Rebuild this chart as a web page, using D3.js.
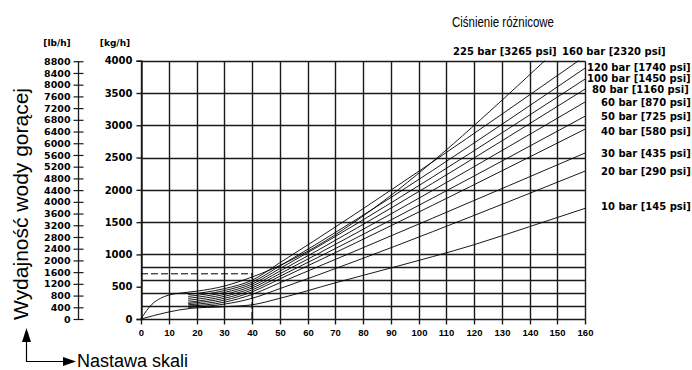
<!DOCTYPE html>
<html>
<head>
<meta charset="utf-8">
<script src="https://cdn.jsdelivr.net/npm/d3@7"></script>
<style>
html,body{margin:0;padding:0;background:#fff;}
svg{display:block;}
</style>
</head>
<body>
<svg id="chart" width="692" height="370"></svg>
<script>
// ---------- DATA ----------
const settingTicks = [0,10,20,30,40,50,60,70,80,90,100,110,120,130,140,150,160];
const kgTicks = [0,500,1000,1500,2000,2500,3000,3500,4000];
const kgMinorGrid = [200,400,600,800];
const lbTicks = [0,400,800,1200,1600,2000,2400,2800,3200,3600,4000,4400,4800,5200,5600,6000,6400,6800,7200,7600,8000,8400,8800];

const pressures = ["225","160","120","100","80","60","50","40","30","20","10"];
const pressureLabels = {
  "225":"225 bar [3265 psi]","160":"160 bar [2320 psi]","120":"120 bar [1740 psi]",
  "100":"100 bar [1450 psi]","80":"80 bar [1160 psi]","60":"60 bar [870 psi]",
  "50":"50 bar [725 psi]","40":"40 bar [580 psi]","30":"30 bar [435 psi]",
  "20":"20 bar [290 psi]","10":"10 bar [145 psi]"
};
// label anchor value (kg/h) at the right edge for side labels
const labelKg = {"120":3890,"100":3730,"80":3560,"60":3360,"50":3130,"40":2910,"30":2560,"20":2280,"10":1745};

// curves: [setting, kg/h]
const c225 = [[0,0],[2,130],[4,230],[7,320],[10,370],[15,405],[20,430],[30,510],[40,650],[145.5,4000]];
const c160 = [[17,380],[30,470],[40,600],[50,870],[157.7,4000]];
const c120 = [[17,350],[30,440],[40,570],[50,820],[160,3885]];
const c100 = [[17,320],[30,410],[40,540],[50,780],[160,3715]];
const c80  = [[17,290],[30,380],[40,510],[50,740],[160,3560]];
const c60  = [[17,260],[30,350],[40,480],[50,700],[160,3360]];
const c50  = [[17,240],[30,320],[40,450],[50,660],[160,3140]];
const c40  = [[17,220],[30,290],[40,420],[50,620],[160,2940]];
const c30  = [[17,200],[30,260],[40,380],[50,560],[160,2570]];
const c20  = [[17,180],[30,230],[40,320],[50,470],[160,2290]];
const c10  = [[0,0],[18,165],[30,190],[40,220],[50,320],[70,560],[90,790],[120,1150],[140,1430],[160,1713]];
const curves = {"225":c225,"160":c160,"120":c120,"100":c100,"80":c80,"60":c60,"50":c50,"40":c40,"30":c30,"20":c20,"10":c10};

// example reading
const exampleSetting = 40;
const exampleKg = 700;

// ---------- DRAW ----------
const svg = d3.select("#chart");
const x = d3.scaleLinear().domain([0,160]).range([141,585]);
const y = d3.scaleLinear().domain([0,4000]).range([319,60.7]);
const LB_PER_KG = 2.20462;
const yLb = d3.scaleLinear().domain([0,4000*LB_PER_KG]).range([319,60.7]);
const px = v => Math.round(v) + 0.5;

const grid = svg.append("g").attr("stroke","#1a1a1a").attr("stroke-width",1.4);
settingTicks.forEach(s=>{
  grid.append("line").attr("x1",px(x(s))).attr("x2",px(x(s))).attr("y1",px(y(0))).attr("y2",px(y(4000)));
});
kgTicks.filter(v=>v>=1000 || v===0).concat(kgMinorGrid).forEach(v=>{
  grid.append("line").attr("x1",px(x(0))).attr("x2",px(x(160))).attr("y1",px(y(v))).attr("y2",px(y(v)));
});

// axes
const fontB = "'DejaVu Sans', sans-serif";
const kgAxis = svg.append("g").attr("transform",`translate(${px(x(0))},0)`)
  .call(d3.axisLeft(y).tickValues(kgTicks).tickSize(5).tickPadding(4).tickFormat(d3.format("d")));
kgAxis.select(".domain").attr("stroke","#1a1a1a").attr("stroke-width",1.4);
kgAxis.selectAll(".tick line").attr("stroke","#1a1a1a").attr("stroke-width",1.4);
kgAxis.selectAll("text").attr("font-family",fontB).attr("font-weight","bold").attr("font-size",10).attr("fill","#000");

const lbAxis = svg.append("g").attr("transform","translate(78.5,0)")
  .call(d3.axisLeft(yLb).tickValues(lbTicks).tickSizeInner(5).tickSizeOuter(0).tickPadding(4).tickFormat(d3.format("d")));
lbAxis.select(".domain").attr("stroke","#1a1a1a").attr("stroke-width",1.3).attr("d",`M0,${yLb(0)}V${yLb(8800)}`);
lbAxis.selectAll(".tick line").attr("stroke","#1a1a1a").attr("stroke-width",1.2).attr("x1",5).attr("x2",-5);
lbAxis.selectAll("text").attr("font-family",fontB).attr("font-weight","bold").attr("font-size",9.5).attr("fill","#000").attr("x",-8);

const xAxis = svg.append("g").attr("transform",`translate(0,${px(y(0))})`)
  .call(d3.axisBottom(x).tickValues(settingTicks).tickSize(5).tickPadding(5).tickFormat(d3.format("d")));
xAxis.select(".domain").remove();
xAxis.selectAll(".tick line").attr("stroke","#1a1a1a").attr("stroke-width",1.4);
xAxis.selectAll(".tick").attr("transform",d=>`translate(${px(x(d))},0)`);
xAxis.selectAll("text").attr("font-family","'Liberation Sans', Arial, sans-serif").attr("font-weight","bold").attr("font-size",9.5).attr("fill","#000");

// unit headers
svg.append("text").attr("x",57).attr("y",46).attr("text-anchor","middle").attr("font-family",fontB).attr("font-weight","bold").attr("font-size",9).text("[lb/h]");
svg.append("text").attr("x",115).attr("y",46).attr("text-anchor","middle").attr("font-family",fontB).attr("font-weight","bold").attr("font-size",9).text("[kg/h]");

// curves
const line = d3.line().x(d=>x(d[0])).y(d=>y(d[1])).curve(d3.curveMonotoneX);
const cg = svg.append("g").attr("fill","none").attr("stroke","#000").attr("stroke-width",0.9);
pressures.forEach(p=>{ cg.append("path").attr("d",line(curves[p])); });

// example dashed reading
const dg = svg.append("g").attr("stroke","#000").attr("stroke-width",1).attr("stroke-dasharray","7,3");
dg.append("line").attr("x1",x(0)).attr("x2",x(exampleSetting)).attr("y1",y(exampleKg)).attr("y2",y(exampleKg));
dg.append("line").attr("x1",x(exampleSetting)).attr("x2",x(exampleSetting)).attr("y1",y(0)).attr("y2",y(exampleKg));

// pressure labels
const lg = svg.append("g").attr("font-family",fontB).attr("font-weight","bold").attr("font-size",10).attr("fill","#000");
["120","100","80","60","50","40","30","20","10"].forEach(p=>{
  const startX = (p==="120"||p==="100")?587:(p==="80"?592:601);
  lg.append("text").attr("x",startX).attr("y",y(labelKg[p])+3.5).text(pressureLabels[p]);
});
lg.append("text").attr("x",453).attr("y",55).text(pressureLabels["225"]);
lg.append("text").attr("x",562).attr("y",55).text(pressureLabels["160"]);

// titles
svg.append("text").attr("x",452).attr("y",27).attr("font-family","'Liberation Sans', Arial, sans-serif").attr("font-size",14)
  .attr("textLength",102).attr("lengthAdjust","spacingAndGlyphs").text("Ciśnienie różnicowe");
svg.append("text").attr("transform","translate(28,320) rotate(-90)").attr("font-family","'Liberation Sans', Arial, sans-serif")
  .attr("font-size",20).attr("textLength",232).attr("lengthAdjust","spacingAndGlyphs").text("Wydajność wody gorącej");
svg.append("text").attr("x",77).attr("y",367).attr("font-family","'Liberation Sans', Arial, sans-serif").attr("font-size",18).text("Nastawa skali");

// arrows
const ag = svg.append("g").attr("stroke","#000").attr("stroke-width",1.2);
ag.append("line").attr("x1",26.5).attr("x2",26.5).attr("y1",340).attr("y2",362);
ag.append("line").attr("x1",26.5).attr("x2",65).attr("y1",361.5).attr("y2",361.5);
svg.append("path").attr("d","M26.5,328 L22,342 L31,342 Z").attr("fill","#000");
svg.append("path").attr("d","M76,361.5 L63,357 L63,366 Z").attr("fill","#000");
</script>
</body>
</html>
